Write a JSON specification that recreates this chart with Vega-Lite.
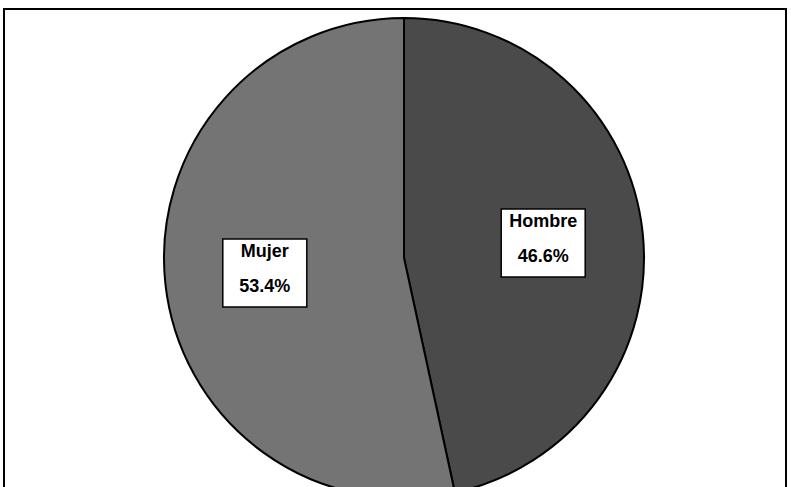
{
  "$schema": "https://vega.github.io/schema/vega-lite/v6.json",
  "width": 782,
  "height": 492,
  "autosize": "none",
  "padding": {"left": 4, "top": 9, "right": 5, "bottom": 0},
  "background": "white",
  "config": {"view": {"stroke": "black", "strokeWidth": 2}},
  "data": {"values": [{"sexo": "Hombre", "pct": 46.6}, {"sexo": "Mujer", "pct": 53.4}]},
  "transform": [
    {"window": [{"op": "sum", "field": "pct", "as": "cum"}], "sort": [{"field": "sexo"}], "frame": [null, 0]},
    {"joinaggregate": [{"op": "sum", "field": "pct", "as": "total"}]},
    {"calculate": "(datum.cum - datum.pct/2)/datum.total*2*PI", "as": "mid"},
    {"calculate": "sin(datum.mid)*140", "as": "lx"},
    {"calculate": "cos(datum.mid)*140", "as": "ly"},
    {"calculate": "[datum.sexo, format(datum.pct, '.1f') + '%']", "as": "label"}
  ],
  "layer": [
    {
      "mark": {"type": "arc", "outerRadius": 240, "stroke": "black", "strokeWidth": 2, "xOffset": 9, "yOffset": 3},
      "encoding": {
        "theta": {"field": "pct", "type": "quantitative", "stack": true},
        "order": {"field": "sexo"},
        "color": {"field": "sexo", "type": "nominal", "scale": {"domain": ["Hombre", "Mujer"], "range": ["#4a4a4a", "#747474"]}, "legend": null}
      }
    },
    {
      "mark": {"type": "point", "shape": "M-1,-0.81L1,-0.81L1,0.81L-1,0.81Z", "size": 7056, "filled": true, "fill": "white", "stroke": "black", "strokeWidth": 1.5, "opacity": 1, "xOffset": 9, "yOffset": 3},
      "encoding": {
        "x": {"field": "lx", "type": "quantitative", "scale": {"domain": [-391, 391]}, "axis": null},
        "y": {"field": "ly", "type": "quantitative", "scale": {"domain": [-246, 246]}, "axis": null}
      }
    },
    {
      "mark": {"type": "text", "font": "Liberation Sans", "fontSize": 18, "fontWeight": "bold", "lineHeight": 35, "align": "center", "baseline": "middle", "color": "black", "xOffset": 9, "yOffset": -18},
      "encoding": {
        "x": {"field": "lx", "type": "quantitative", "scale": {"domain": [-391, 391]}, "axis": null},
        "y": {"field": "ly", "type": "quantitative", "scale": {"domain": [-246, 246]}, "axis": null},
        "text": {"field": "label"}
      }
    }
  ]
}
